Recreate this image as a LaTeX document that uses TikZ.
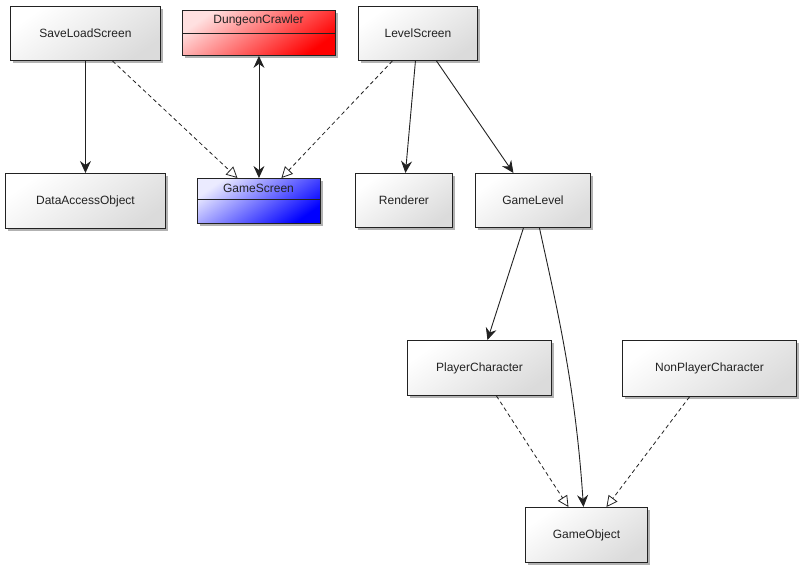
\documentclass[tikz,border=0pt]{standalone}
\usepackage{fontspec}
\setmainfont{Liberation Sans}
\usetikzlibrary{arrows.meta,shadows,calc}
\definecolor{ink}{HTML}{222222}
\tikzset{
  box/.style={draw=ink, line width=0.9pt, anchor=north west, inner sep=0pt,
    top color=white, bottom color=black!14, shading angle=35,
    drop shadow={shadow xshift=2.5pt, shadow yshift=-3pt, opacity=0.3, fill=black}},
  redbox/.style={box, top color=red!12, bottom color=red, shading angle=35},
  bluebox/.style={box, top color=blue!8, bottom color=blue, shading angle=35},
  lbl/.style={font=\fontsize{12}{14}\selectfont, text=ink},
  tip/.style={},
  assoc/.style={draw=ink, line width=0.9pt, -{Stealth[length=12pt,width=11pt,inset=4pt]}},
  both/.style={draw=ink, line width=0.9pt, {Stealth[length=12pt,width=11pt,inset=4pt]}-{Stealth[length=12pt,width=11pt,inset=4pt]}},
  realize/.style={draw=ink, line width=0.8pt, dash pattern=on 4pt off 3pt, -{Triangle[open,length=11pt,width=11pt,fill=white]}}
}
\begin{document}
\begin{tikzpicture}[x=1pt,y=-1pt]
\useasboundingbox (0,0) rectangle (800,568);
% boxes
\node[box, minimum width=150pt, minimum height=54pt] (sls) at (10,6) {};
\node[lbl] (slst) at (sls.center) {SaveLoadScreen};
\node[redbox, minimum width=153pt, minimum height=45pt] (dc) at (182,10) {};
\node[lbl] (dct) at (258.5,20) {DungeonCrawler};
\draw[draw=ink, line width=0.9pt] (dc.west |- 0,33) -- (dc.east |- 0,33);
\node[box, minimum width=119pt, minimum height=54pt] (ls) at (358,6) {};
\node[lbl] (lst) at (ls.center) {LevelScreen};
\node[box, minimum width=160pt, minimum height=55pt] (dao) at (5,173) {};
\node[lbl] (daot) at (dao.center) {DataAccessObject};
\node[bluebox, minimum width=123pt, minimum height=45pt] (gs) at (197,178) {};
\node[lbl] (gst) at (258.5,188) {GameScreen};
\draw[draw=ink, line width=0.9pt] (gs.west |- 0,199) -- (gs.east |- 0,199);
\node[box, minimum width=97pt, minimum height=54pt] (ren) at (355,173) {};
\node[lbl] (rent) at (ren.center) {Renderer};
\node[box, minimum width=115pt, minimum height=54pt] (gl) at (475,173) {};
\node[lbl] (glt) at (gl.center) {GameLevel};
\node[box, minimum width=144pt, minimum height=55pt] (pc) at (407,340) {};
\node[lbl] (pct) at (pc.center) {PlayerCharacter};
\node[box, minimum width=174pt, minimum height=56pt] (npc) at (622,340) {};
\node[lbl] (npct) at (npc.center) {NonPlayerCharacter};
\node[box, minimum width=122pt, minimum height=55pt] (go) at (525,507) {};
\node[lbl] (got) at (go.center) {GameObject};
% connectors
\draw[assoc] (sls.south) -- (dao.north);
\draw[realize] ([xshift=27pt]sls.south) -- ([xshift=-21.5pt]gs.north);
\draw[both] (dc.south) -- (gs.north);
\draw[realize] ([xshift=-25.5pt]ls.south) -- ([xshift=22.5pt]gs.north);
\draw[assoc] ([xshift=-2.5pt]ls.south) -- ([xshift=1.5pt]ren.north);
\draw[assoc] ([xshift=18.5pt]ls.south) -- ([xshift=-19.5pt]gl.north);
\draw[assoc] ([xshift=-9.5pt]gl.south) -- ([xshift=8pt]pc.north);
\draw[assoc] ([xshift=6.5pt]gl.south) .. controls (555,300) and (575,380) .. ([xshift=-3pt]go.north);
\draw[realize] ([xshift=17pt]pc.south) -- ([xshift=-18pt]go.north);
\draw[realize] ([xshift=-20pt]npc.south) -- ([xshift=20pt]go.north);
\end{tikzpicture}
\end{document}
